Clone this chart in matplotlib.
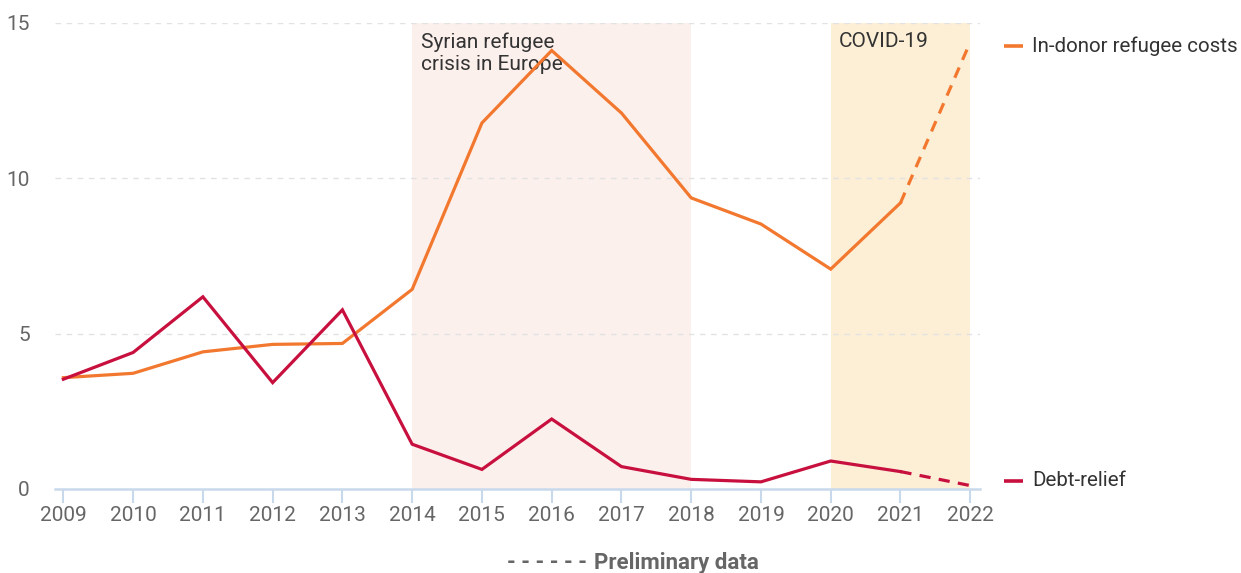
import matplotlib
matplotlib.use("Agg")
import matplotlib.pyplot as plt
import matplotlib.transforms as mtransforms

years = [2009, 2010, 2011, 2012, 2013, 2014, 2015, 2016, 2017, 2018, 2019, 2020, 2021, 2022]
refugee_costs = [3.58, 3.72, 4.41, 4.65, 4.68, 6.42, 11.77, 14.1, 12.09, 9.36, 8.52, 7.07, 9.2, 14.37]
debt_relief = [3.53, 4.39, 6.18, 3.42, 5.76, 1.44, 0.63, 2.25, 0.72, 0.31, 0.23, 0.9, 0.56, 0.11]
n_final = 13  # years up to 2021 are final; 2021->2022 preliminary
yticks = [0, 5, 10, 15]
periods = [(2014, 2018, "Syrian refugee\ncrisis in Europe"), (2020, 2022, "COVID-19")]
series_names = ["In-donor refugee costs", "Debt-relief"]

ORANGE = "#f3782f"
RED = "#c8103f"
plt.rcParams['font.family'] = ['Roboto', 'DejaVu Sans']

fig = plt.figure(figsize=(12.41, 5.73), dpi=100)
ax = fig.add_axes([55/1241, 1-489/573, (980-55)/1241, (489-22.5)/573])
ax.set_xlim(2008.88, 2022.14)
ax.set_ylim(0, 15)

shade_cols = ["#fcf0ec", "#fdefd5"]
for (a, b, lab), c in zip(periods, shade_cols):
    ax.axvspan(a, b, color=c, zorder=0, lw=0)
    ax.text(a + 0.12, 14.68, lab, ha="left", va="top", fontsize=15, color="#333333",
            linespacing=1.22, zorder=3)

for y in yticks[1:]:
    ax.axhline(y, color="#e2e2e2", lw=1, linestyle=(0, (4, 4)), zorder=1)

for vals, col in [(refugee_costs, ORANGE), (debt_relief, RED)]:
    ax.plot(years[:n_final], vals[:n_final], color=col, lw=2.3, zorder=4, clip_on=False,
            solid_joinstyle="miter")
    ax.plot(years[n_final-1:], vals[n_final-1:], color=col, lw=2.3, zorder=4, clip_on=False,
            linestyle=(0, (3.5, 2.6)))

for s in ["top", "right", "left"]:
    ax.spines[s].set_visible(False)
ax.spines["bottom"].set_color("#c9d9ec")
ax.spines["bottom"].set_linewidth(1.8)

ax.set_xticks(years)
ax.set_xticklabels([str(y) for y in years])
ax.set_yticks(yticks)
ax.tick_params(axis="x", colors="#c9d9ec", length=10, width=1.5, pad=2, labelsize=15,
               labelcolor="#666666")
ax.tick_params(axis="y", length=0, pad=18, labelsize=15, labelcolor="#666666")

# end labels
trans = mtransforms.blended_transform_factory(fig.transFigure, ax.transData)
label_y = [14.24, 0.26]
for name, col, yv in zip(series_names, [ORANGE, RED], label_y):
    ax.plot([1004/1241, 1023/1241], [yv, yv], transform=trans, color=col, lw=2.6,
            clip_on=False, solid_capstyle="butt")
    ax.text(1032/1241, yv, name, transform=trans, ha="left", va="center",
            fontsize=14.8, color="#333333")

yb = 1 - 563/573
fig.text(507/1241, yb, "- - - - - -", ha="left", va="center", fontsize=16,
         color="#666666", fontweight="bold")
fig.text(594/1241, yb, "Preliminary data", ha="left", va="center", fontsize=16,
         color="#666666", fontweight="bold")

fig.savefig("out.png", dpi=100)
